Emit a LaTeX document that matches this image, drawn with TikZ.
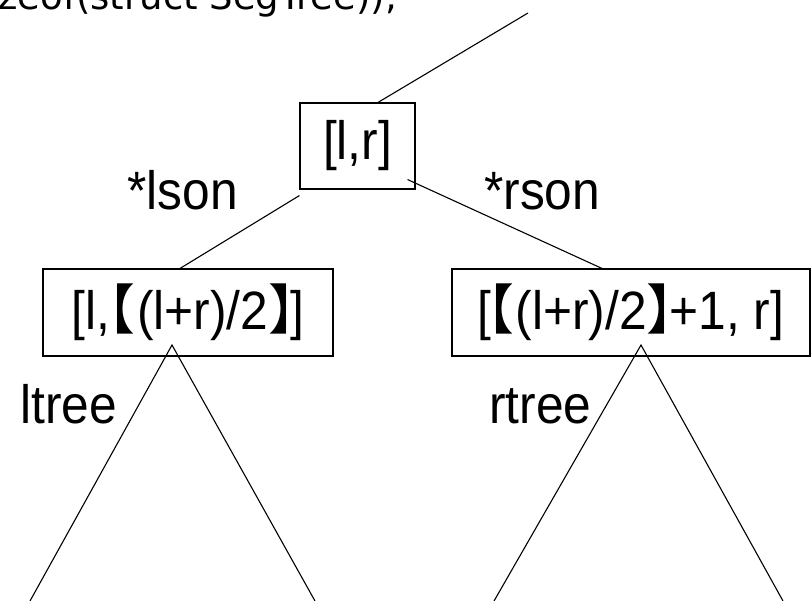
\documentclass[tikz,border=0pt]{standalone}
\usepackage{fontspec}
\setmainfont{Liberation Sans}[FakeStretch=0.92]
\newfontfamily\cjk{Noto Sans CJK SC}
\newfontfamily\topfont{DejaVu Sans}
\newcommand{\lbk}{\makebox[0.42em][r]{\cjk 【}}
\newcommand{\rbk}{\makebox[0.42em][l]{\cjk 】}}
\tikzset{
  box/.style={draw, line width=1.1pt, inner sep=0pt, font=\fontsize{54}{60}\selectfont},
  lbl/.style={inner sep=0pt, anchor=base west, font=\fontsize{54}{60}\selectfont},
  edge/.style={line width=1.1pt}
}
\begin{document}
\begin{tikzpicture}[x=1pt,y=-1pt]
\useasboundingbox (0,0) rectangle (811,601);
\clip (0,0) rectangle (811,601);
\node[anchor=base east, inner sep=0pt, font=\topfont\fontsize{37}{43}\selectfont] (alloc) at (398,10) {sizeof(struct SegTree));};
\node[box, minimum width=115pt, minimum height=86pt] (root) at (357.5,146) {[l,r]};
\node[box, minimum width=290pt, minimum height=87pt] (lchild) at (188,312.5) {[l,\kern0.05em\lbk\kern0.03em(l+r)/2\rbk]};
\node[box, minimum width=358pt, minimum height=87pt] (rchild) at (631,312.5) {[\lbk\kern0.03em(l+r)/2\rbk+1, r]};
\node[lbl] (lson) at (127,210) {*lson};
\node[lbl] (rson) at (484,210) {*rson};
\node[lbl] (ltree) at (20,423) {ltree};
\node[lbl] (rtree) at (489,423) {rtree};
\coordinate (topend) at (528,13);
\coordinate (la) at (172,345);
\coordinate (lbl) at (30,601);
\coordinate (lbr) at (315,601);
\coordinate (ra) at (641,345);
\coordinate (rbl) at (494,601);
\coordinate (rbr) at (783,601);
\draw[edge] (topend) -- ([xshift=20.5pt]root.north);
\draw[edge] ([yshift=-6pt]root.south west) -- ([xshift=-8pt]lchild.north);
\draw[edge] ([xshift=-8pt,yshift=10pt]root.south east) -- ([xshift=-29pt]rchild.north);
\draw[edge] (lbl) -- (la) -- (lbr);
\draw[edge] (rbl) -- (ra) -- (rbr);
\end{tikzpicture}
\end{document}
